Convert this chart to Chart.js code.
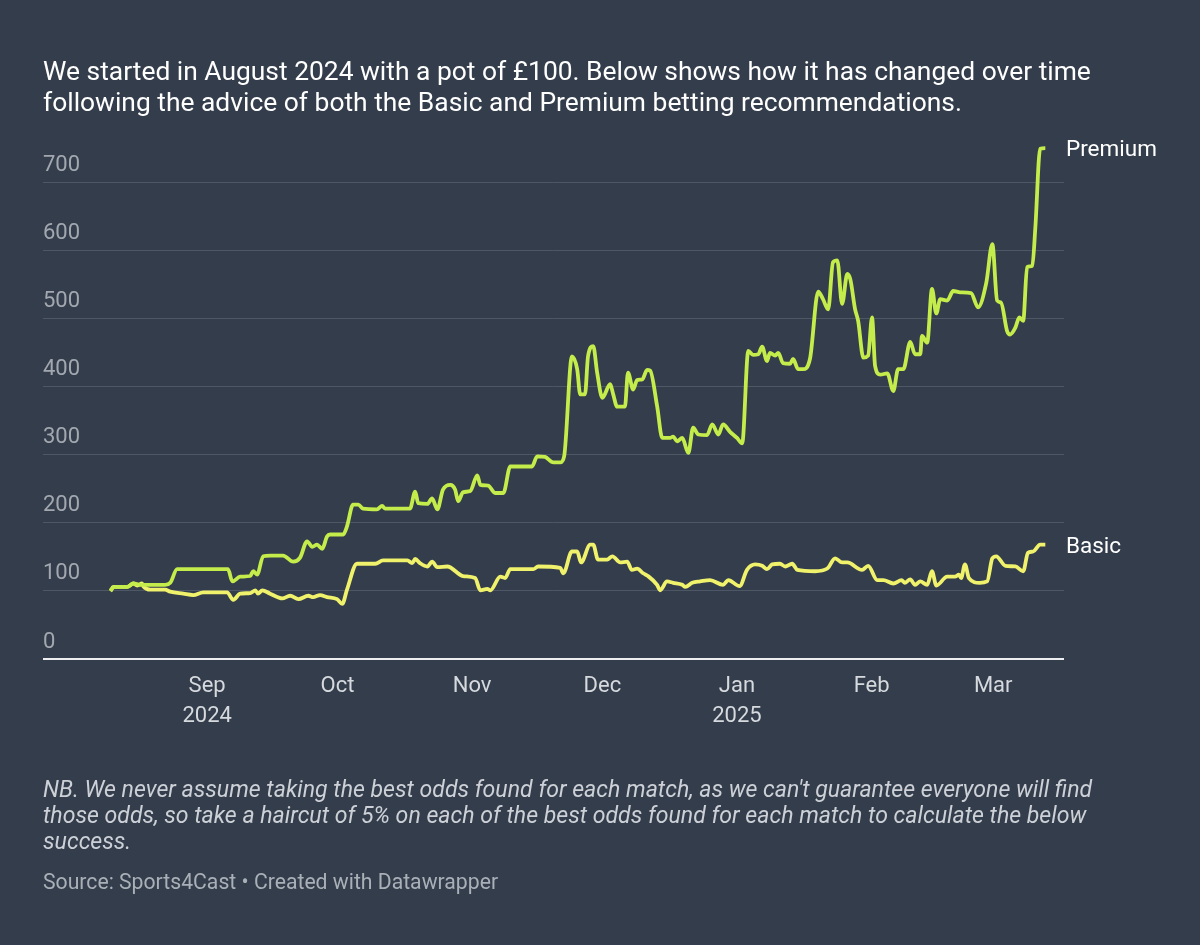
<!DOCTYPE html>
<html>
<head>
<meta charset="utf-8">
<script src="https://cdn.jsdelivr.net/npm/chart.js@4"></script>
<style>
  html, body { margin:0; padding:0; background:#333d4b; width:1200px; height:945px; overflow:hidden; font-family: Roboto, "Noto Sans", sans-serif; }
  #wrap { position:absolute; left:0; top:0; width:1200px; height:945px; }
  canvas { position:absolute; left:0; top:0; }
  .title { position:absolute; left:43px; top:56px; color:#ffffff; font-size:26.4px; line-height:31px; white-space:nowrap; }
  .note { position:absolute; left:43px; top:777px; color:#cdd1d7; font-size:23.1px; line-height:26px; font-style:italic; white-space:nowrap; }
  .source { position:absolute; left:43px; top:869px; color:#aab0b8; font-size:21.2px; line-height:26px; white-space:nowrap; }
</style>
</head>
<body>
<div id="wrap">
  <canvas id="c" width="1200" height="945"></canvas>
  <div class="title">We started in August 2024 with a pot of £100. Below shows how it has changed over time<br>following the advice of both the Basic and Premium betting recommendations.</div>
  <div class="note">NB. We never assume taking the best odds found for each match, as we can't guarantee everyone will find<br>those odds, so take a haircut of 5% on each of the best odds found for each match to calculate the below<br>success.</div>
  <div class="source">Source: Sports4Cast • Created with Datawrapper</div>
</div>
<script>
// Days counted from 1 Sep 2024 (negative = August 2024)
const premiumDays = [-22.3,-21.4,-18.4,-17.0,-15.4,-9.7,-8.5,-6.9,4.8,5.8,7.6,9.9,10.6,11.5,12.9,14.5,17.5,19.8,21.4,23.0,24.2,25.3,26.5,27.6,28.3,31.3,32.2,33.6,34.8,35.9,39.1,40.3,41.0,46.7,47.9,48.6,50.7,51.8,53.0,54.3,56.0,57.1,57.8,58.9,60.6,62.2,62.9,64.7,66.3,68.2,69.8,74.8,76.0,77.8,79.7,81.3,82.2,84.0,85.2,85.9,87.0,87.7,88.9,89.8,91.0,92.8,93.5,94.4,96.2,96.9,98.1,99.0,100.2,101.3,102.0,103.6,104.8,106.6,107.3,108.2,109.4,110.8,111.9,113.1,115.1,116.3,117.7,118.8,120.4,122.0,123.2,124.6,125.7,126.9,127.8,128.9,129.6,130.8,131.5,132.6,134.2,134.9,136.1,137.2,138.8,140.7,141.8,143.0,144.1,145.1,146.2,147.4,148.1,149.2,149.9,151.1,152.2,153.1,153.8,155.0,156.6,158.0,159.1,160.3,161.9,163.0,164.2,164.6,165.8,166.9,167.9,168.8,170.4,171.8,173.4,175.9,177.5,179.4,180.8,181.9,182.8,184.2,184.9,186.1,187.0,187.9,188.8,190.0,190.7,191.8,193.0];
const premiumValues = [100,106,106,111,109,109,112,132,132,114,121,122,129,124,151,152,152,143,149,173,165,168,162,180,183,183,195,227,227,221,220,225,221,221,246,229,228,236,220,249,256,249,232,245,247,270,256,255,244,244,283,283,298,297,289,289,298,445,426,389,389,445,460,421,384,404,389,371,371,421,396,410,411,425,424,372,325,325,327,320,325,303,340,330,329,345,330,345,334,325,317,453,447,448,459,438,450,446,450,435,434,441,426,426,441,540,529,514,583,586,522,566,558,514,497,443,446,502,431,418,420,394,426,426,466,448,448,475,465,544,508,529,527,541,539,538,517,553,610,527,524,482,477,487,502,497,576,578,634,750,751];

const basicDays = [-22.3,-21.6,-18.4,-17.0,-16.1,-15.0,-14.7,-13.1,-9.7,-8.5,-5.5,-3.2,-0.9,4.6,6.0,7.6,9.9,11.1,11.7,12.7,14.5,17.3,19.1,21.0,23.3,24.4,26.0,27.6,29.9,31.1,32.2,34.5,38.7,40.5,42.1,46.1,47.2,47.9,49.0,50.7,51.8,53.0,55.3,58.9,61.7,62.9,64.5,65.2,67.5,68.6,69.8,75.1,76.2,81.3,82.0,84.0,85.2,86.1,88.2,88.9,90.0,92.1,93.3,95.1,96.7,97.8,99.0,100.4,101.5,103.6,104.3,105.9,107.3,109.4,110.1,111.7,113.5,115.8,118.8,120.0,122.6,124.3,126.2,127.8,128.9,130.1,131.9,133.1,134.7,135.9,140.0,142.8,144.6,146.2,147.4,150.8,152.2,154.3,155.7,158.0,159.9,160.6,161.9,163.0,164.2,165.8,166.9,167.9,170.4,172.2,173.1,173.6,174.5,175.4,177.9,179.6,180.8,181.7,183.8,186.1,187.9,189.0,190.2,191.8,193.0];
const basicValues = [100,106,106,111,108,111,107,102,102,99,96,94,98,98,87,96,97,101,96,101,96,89,93,88,93,91,94,91,88,81,102,140,140,145,145,145,141,147,141,136,143,135,136,122,119,101,103,101,121,119,132,132,136,134,126,158,158,142,168,168,146,146,151,142,143,131,133,126,122,109,101,114,112,109,106,112,114,116,109,116,107,131,139,137,132,139,140,136,140,131,129,133,148,142,142,131,137,116,116,111,116,112,117,109,114,109,129,108,121,121,124,119,139,119,112,114,148,151,137,136,129,156,158,168,168];

const seriesNames = ['Premium', 'Basic'];
const monthTickDays = [0, 30, 61, 91, 122, 153, 181];
const monthTickLabels = [['Sep','2024'], 'Oct', 'Nov', 'Dec', ['Jan','2025'], 'Feb', 'Mar'];
const yTickValues = [0,100,200,300,400,500,600,700];

const toPoints = (xs, ys) => xs.map((x, i) => ({x, y: ys[i]}));

const endLabels = {
  id: 'endLabels',
  afterDatasetsDraw(chart) {
    const ctx = chart.ctx;
    ctx.save();
    ctx.font = '22.5px Roboto';
    ctx.fillStyle = '#ffffff';
    ctx.textAlign = 'left';
    ctx.textBaseline = 'middle';
    chart.data.datasets.forEach((ds, i) => {
      const meta = chart.getDatasetMeta(i);
      const last = meta.data[meta.data.length - 1];
      ctx.fillText(ds.label, chart.chartArea.right + 2, last.y + 2.5);
    });
    ctx.restore();
  }
};

new Chart(document.getElementById('c'), {
  type: 'line',
  data: {
    datasets: [
      { label: seriesNames[0], data: toPoints(premiumDays, premiumValues), borderColor: '#c4ec4b', borderWidth: 3.8, pointRadius: 0, cubicInterpolationMode: 'monotone', clip: false },
      { label: seriesNames[1], data: toPoints(basicDays, basicValues), borderColor: '#f0f26c', borderWidth: 3.8, pointRadius: 0, cubicInterpolationMode: 'monotone', clip: false }
    ]
  },
  options: {
    responsive: false,
    animation: false,
    events: [],
    layout: { padding: { left: 43, right: 136, top: 142, bottom: 206 } },
    plugins: { legend: { display: false }, tooltip: { enabled: false } },
    scales: {
      x: {
        type: 'linear',
        min: -37.8,
        max: 197.3,
        afterBuildTicks: (s) => { s.ticks = monthTickDays.map(v => ({value: v})); },
        afterFit: (s) => { s.height = 80; },
        grid: { display: false, drawTicks: false },
        border: { display: false },
        ticks: {
          autoSkip: false,
          maxRotation: 0,
          padding: 13,
          color: '#d6d9de',
          font: { family: 'Roboto', size: 22, lineHeight: 1.36 },
          callback: (v) => { const i = monthTickDays.indexOf(v); return i >= 0 ? monthTickLabels[i] : ''; }
        }
      },
      y: {
        min: 0,
        max: 760,
        afterBuildTicks: (s) => { s.ticks = yTickValues.map(v => ({value: v})); },
        afterFit: (s) => { s.width = 0; },
        border: { display: false },
        grid: {
          drawTicks: false,
          color: (c) => c.tick && c.tick.value === 0 ? '#eceef0' : '#4e5765',
          lineWidth: (c) => c.tick && c.tick.value === 0 ? 2 : 1
        },
        ticks: {
          mirror: true,
          padding: 0,
          labelOffset: -17,
          color: '#a3a8b0',
          font: { family: 'Roboto', size: 22 }
        }
      }
    }
  },
  plugins: [endLabels]
});
</script>
</body>
</html>
